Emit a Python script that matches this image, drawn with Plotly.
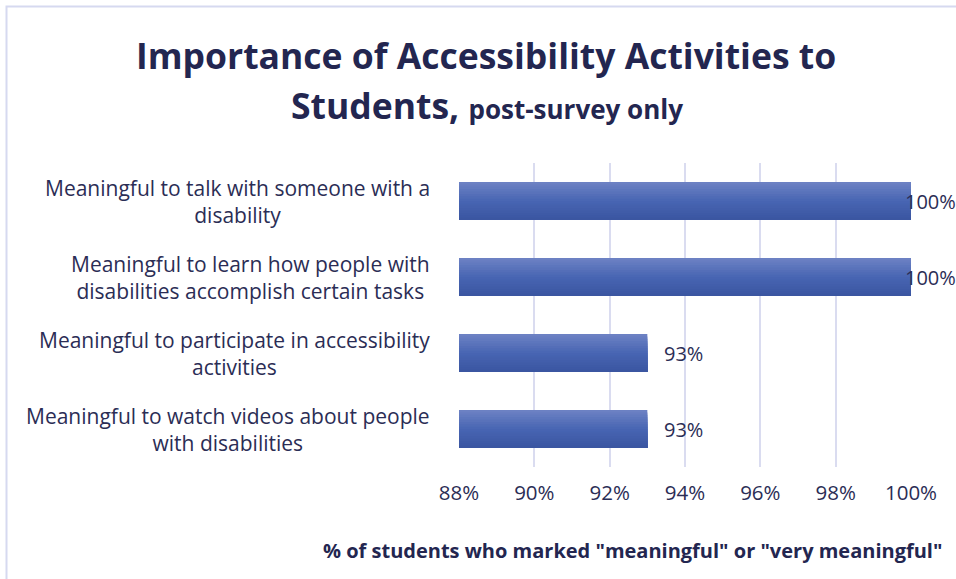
import plotly.graph_objects as go

# Survey results (post-survey only)
categories = [
    "Meaningful to talk with someone with a<br>disability",
    "Meaningful to learn how people with<br>disabilities accomplish certain tasks",
    "Meaningful to participate in accessibility<br>activities",
    "Meaningful to watch videos about people<br>with disabilities",
]
values = [1.00, 1.00, 0.93, 0.93]
tick_vals = [0.88, 0.90, 0.92, 0.94, 0.96, 0.98, 1.00]
tick_text = ["88%", "90%", "92%", "94%", "96%", "98%", "100%"]

W, H = 956, 579
L, R, T, B = 459, 911, 163, 467  # plot area in pixels

TEXT = "#2b2d55"
TITLE = "#232650"
GRID = "#dadcf0"
FONT = "Open Sans"

# vertical gradient for the bars: light on top, darker at the bottom
top_rgb = (0x6e, 0x83, 0xc4)
mid_rgb = (0x48, 0x65, 0xb3)
bot_rgb = (0x3a, 0x55, 0xa0)


def lerp(a, b, t):
    return tuple(round(a[i] + (b[i] - a[i]) * t) for i in range(3))


n_strips = 16
bar_w = 0.5
pos = list(range(len(categories)))
fig = go.Figure()
# each strip runs from its own top edge down to the bottom of the bar and is
# painted over the previous one, so no seams show between strips
for i in range(n_strips):
    t = (i + 0.5) / n_strips
    c = lerp(top_rgb, mid_rgb, t * 2) if t < 0.5 else lerp(mid_rgb, bot_rgb, (t - 0.5) * 2)
    start = -bar_w / 2 + i * bar_w / n_strips
    fig.add_trace(go.Bar(
        x=[v - 0.88 for v in values],
        base=0.88,
        y=pos,
        orientation="h",
        width=bar_w / 2 - start,
        offset=start,
        marker=dict(color="rgb(%d,%d,%d)" % c, line=dict(width=0)),
        hoverinfo="skip",
        showlegend=False,
    ))

annotations = []
# value labels; labels at the axis end are pulled back inside the figure
for p, v in zip(pos, values):
    annotations.append(dict(
        x=v, y=p, xref="x", yref="y", text=f"{v:.0%}", showarrow=False,
        xanchor="left", xshift=(-8 if v >= 1.0 else 15),
        font=dict(family=FONT, size=20, color=TEXT),
    ))
# category labels, centred lines
for p, c in zip(pos, categories):
    annotations.append(dict(
        x=0, y=p, xref="paper", yref="y", text=c, showarrow=False,
        xanchor="right", xshift=-27, align="center",
        font=dict(family=FONT, size=21, color=TEXT),
    ))


def px_x(x):
    return (x - L) / (R - L)


def px_y(y):
    return (B - y) / (B - T)


# title
annotations.append(dict(
    x=px_x(486), y=px_y(55), xref="paper", yref="paper",
    text="<b>Importance of Accessibility Activities to</b>", showarrow=False,
    xanchor="center", yanchor="middle",
    font=dict(family=FONT, size=35.5, color=TITLE),
))
annotations.append(dict(
    x=px_x(487), y=px_y(105), xref="paper", yref="paper",
    text="<b>Students, </b><b><span style='font-size:26px'>post-survey only</span></b>",
    showarrow=False, xanchor="center", yanchor="middle",
    font=dict(family=FONT, size=35.5, color=TITLE),
))
# axis title
annotations.append(dict(
    x=px_x(632), y=px_y(550), xref="paper", yref="paper",
    text='<b>% of students who marked "meaningful" or "very meaningful"</b>',
    showarrow=False, xanchor="center", yanchor="middle",
    font=dict(family=FONT, size=20, color=TITLE),
))

fig.update_layout(
    width=W, height=H,
    margin=dict(l=L, r=W - R, t=T, b=H - B, pad=0),
    paper_bgcolor="white", plot_bgcolor="white",
    barmode="overlay",
    annotations=annotations,
    shapes=[dict(
        type="rect", xref="paper", yref="paper",
        x0=px_x(6.5), x1=px_x(1100), y0=px_y(700), y1=px_y(6.5),
        line=dict(color="#d6d9f0", width=2), fillcolor="rgba(0,0,0,0)", layer="below",
    )],
    xaxis=dict(
        range=[0.88, 1.00], tickvals=tick_vals, ticktext=tick_text,
        showgrid=True, gridcolor=GRID, gridwidth=2, zeroline=False,
        showline=False, ticks="", ticklabelstandoff=11,
        tickfont=dict(family=FONT, size=20.5, color=TEXT),
    ),
    yaxis=dict(
        range=[len(categories) - 0.5, -0.5], showticklabels=False,
        showgrid=False, zeroline=False, showline=False, ticks="",
    ),
)

fig.write_html("out.html")
